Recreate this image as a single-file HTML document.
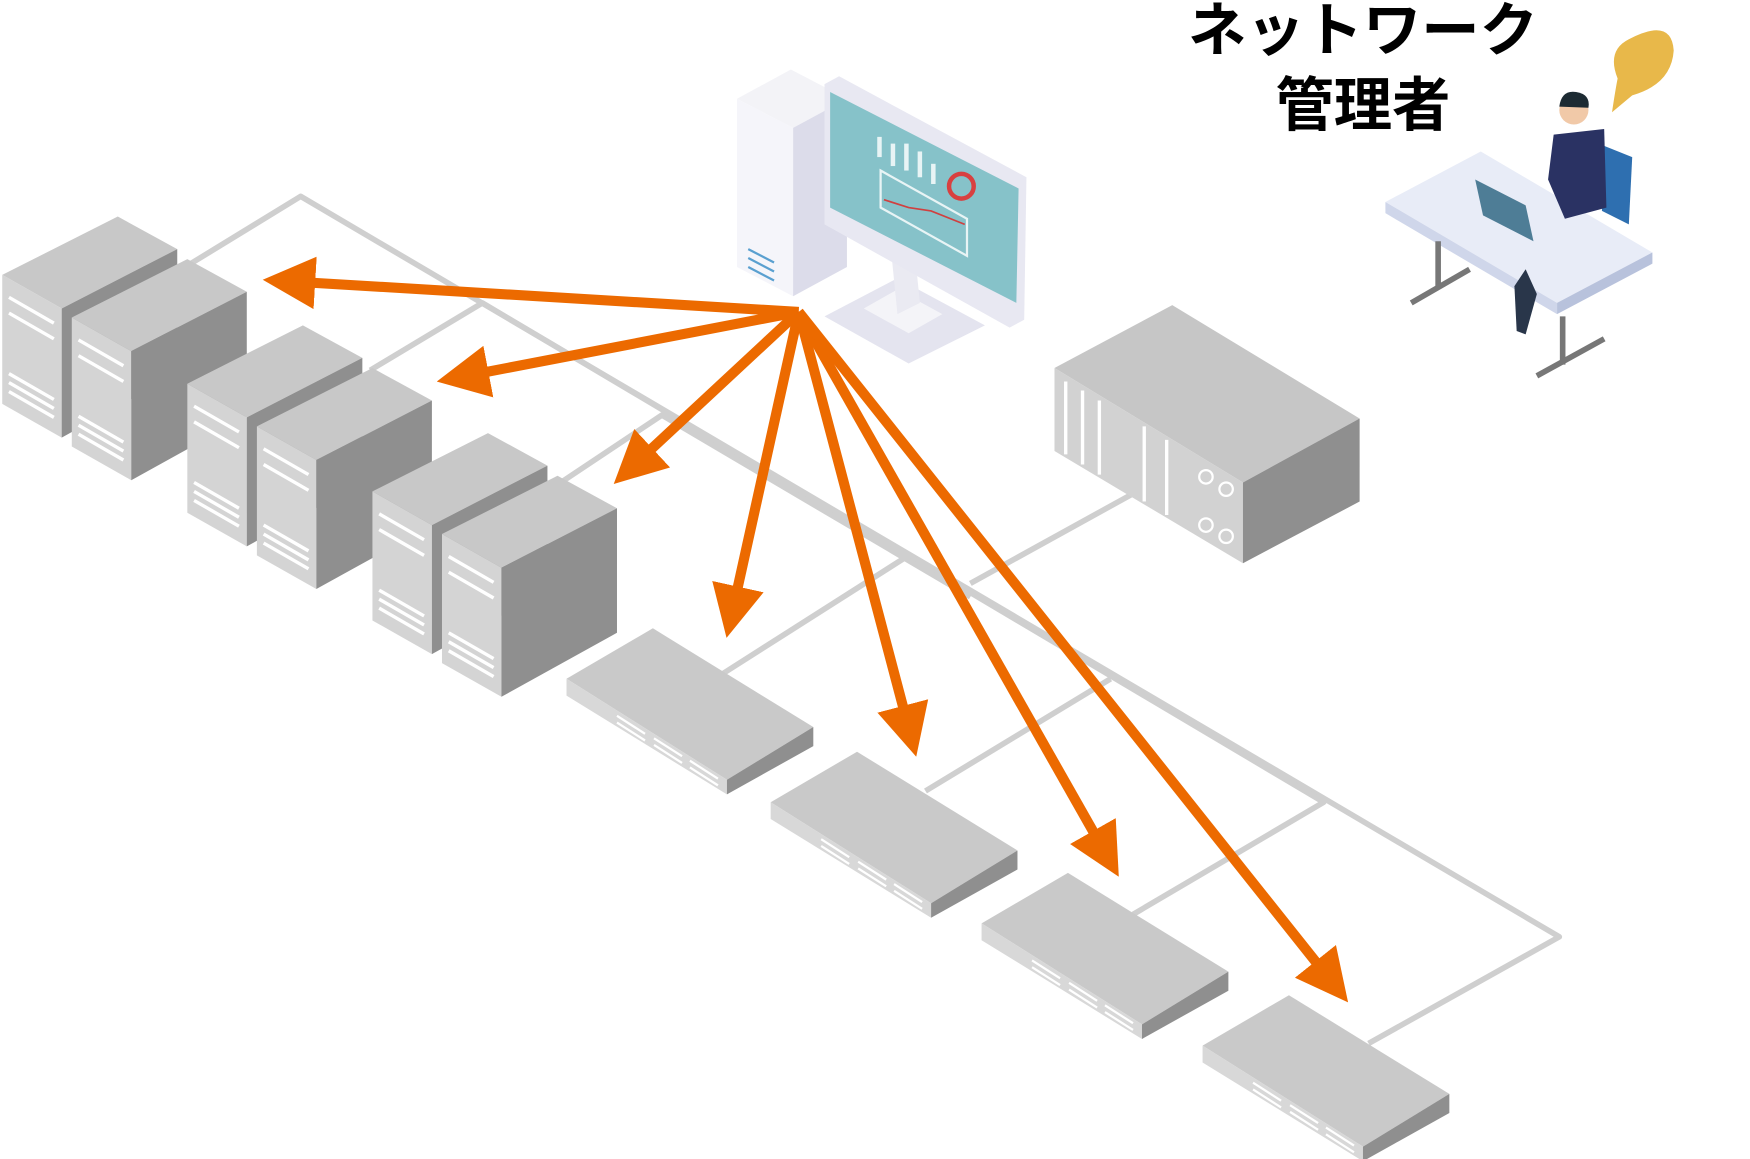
<!DOCTYPE html>
<html><head><meta charset="utf-8"><style>
html,body{margin:0;padding:0;background:#fff;}
svg{display:block}
</style></head><body>
<svg width="1750" height="1159" viewBox="0 0 1560 1033" preserveAspectRatio="none" xmlns="http://www.w3.org/2000/svg">
<defs>
<marker id="ah" markerWidth="5.2" markerHeight="5.2" refX="4" refY="2.6" orient="auto" markerUnits="strokeWidth">
<path d="M0,0 L5.2,2.6 L0,5.2 Z" fill="#ec6a00"/>
</marker>
<g id="tower">
<polygon points="0,52 103,0 156,29 53,82" fill="#c8c8c8"/>
<polygon points="0,52 53,82 53,197 0,167" fill="#d4d4d4"/>
<polygon points="53,82 156,29 156,140 53,197" fill="#8f8f8f"/>
<g stroke="#fff" stroke-width="3">
<line x1="6" y1="72" x2="46" y2="95"/><line x1="6" y1="86" x2="46" y2="109"/>
<line x1="6" y1="140" x2="46" y2="163"/><line x1="6" y1="148" x2="46" y2="171"/><line x1="6" y1="156" x2="46" y2="179"/>
</g>
</g>
<g id="pair">
<use href="#tower" x="0" y="0"/>
<use href="#tower" x="62" y="38"/>
</g>
<g id="sw">
<polygon points="0,45 77,0 220,88 143,135" fill="#c9c9c9"/>
<polygon points="0,45 143,135 143,148 0,60" fill="#d8d8d8"/>
<polygon points="143,135 220,88 220,105 143,148" fill="#8f8f8f"/>
<g stroke="#fff" stroke-width="2">
<line x1="45" y1="78" x2="70" y2="94"/><line x1="45" y1="84" x2="70" y2="100"/>
<line x1="78" y1="98" x2="103" y2="114"/><line x1="78" y1="104" x2="103" y2="120"/>
<line x1="110" y1="118" x2="135" y2="134"/><line x1="110" y1="124" x2="135" y2="140"/>
</g>
</g>
</defs>

<g stroke="#cfcfcf" stroke-width="5" fill="none" stroke-linejoin="round">
<polyline points="170,235 268,175 1390,835 1220,930"/>
<polyline points="330,330 430,270 1180,715 1010,815"/>
<polyline points="500,430 590,370 865,532"/>
<line x1="645" y1="600" x2="810" y2="495"/>
<line x1="865" y1="520" x2="1010" y2="440"/>
<line x1="825" y1="705" x2="990" y2="605"/>
</g>

<use href="#pair" x="2" y="193"/>
<use href="#pair" x="167" y="290"/>
<use href="#pair" x="332" y="386"/>

<use href="#sw" x="505" y="560"/>
<use href="#sw" x="687" y="670"/>
<use href="#sw" x="875" y="778"/>
<use href="#sw" x="1072" y="887"/>

<polygon points="940,328 1045,272 1212,373 1108,430" fill="#c6c6c6"/>
<polygon points="940,328 1108,430 1108,502 940,402" fill="#d2d2d2"/>
<polygon points="1108,430 1212,373 1212,447 1108,502" fill="#8f8f8f"/>
<g stroke="#fff" stroke-width="3">
<line x1="950" y1="340" x2="950" y2="405"/><line x1="965" y1="348" x2="965" y2="414"/><line x1="980" y1="357" x2="980" y2="423"/>
<line x1="1020" y1="380" x2="1020" y2="447"/><line x1="1040" y1="392" x2="1040" y2="459"/>
</g>
<g fill="none" stroke="#fff" stroke-width="2"><circle cx="1075" cy="425" r="6"/><circle cx="1093" cy="436" r="6"/><circle cx="1075" cy="468" r="6"/><circle cx="1093" cy="478" r="6"/></g>

<polygon points="657,88 705,62 755,88 707,114" fill="#f3f3f7"/>
<polygon points="657,88 707,114 707,264 657,238" fill="#f5f5fa"/>
<polygon points="707,114 755,88 755,238 707,264" fill="#dcdcea"/>
<g stroke="#5aa0d0" stroke-width="2"><line x1="667" y1="222" x2="690" y2="234"/><line x1="667" y1="230" x2="690" y2="242"/><line x1="667" y1="238" x2="690" y2="250"/></g>
<polygon points="735,282 800,248 878,290 810,324" fill="#e4e4ef"/>
<polygon points="770,275 800,258 840,280 810,297" fill="#f4f4f8"/>
<polygon points="795,230 815,220 820,270 800,280" fill="#eaeaf2"/>
<polygon points="735,75 748,68 915,158 913,285 900,292 735,200" fill="#e8e8f2"/>
<polygon points="740,82 908,168 906,270 740,185" fill="#86c2c9"/>
<g stroke="#e8f4f5" stroke-width="4"><line x1="784" y1="122" x2="784" y2="140"/><line x1="796" y1="128" x2="796" y2="148"/><line x1="808" y1="128" x2="808" y2="152"/><line x1="820" y1="135" x2="820" y2="158"/><line x1="832" y1="146" x2="832" y2="164"/></g>
<polygon points="785,152 862,195 862,228 785,185" fill="none" stroke="#e8f4f5" stroke-width="2"/>
<polyline points="788,178 810,185 830,188 860,200" fill="none" stroke="#d04040" stroke-width="1.5"/>
<circle cx="857" cy="166" r="11" fill="none" stroke="#d84040" stroke-width="4"/>

<polygon points="1235,180 1320,135 1473,225 1388,270" fill="#e8ecf7"/>
<polygon points="1235,180 1388,270 1388,280 1235,190" fill="#cfd6ea"/>
<polygon points="1388,270 1473,225 1473,235 1388,280" fill="#b8c2dc"/>
<g stroke="#777" stroke-width="5"><line x1="1282" y1="215" x2="1282" y2="255"/><line x1="1258" y1="270" x2="1310" y2="240"/><line x1="1393" y1="282" x2="1393" y2="325"/><line x1="1370" y1="335" x2="1430" y2="302"/></g>
<polygon points="1430,130 1455,140 1452,200 1428,188" fill="#2e6fb0"/>
<polygon points="1385,120 1430,115 1432,185 1395,195 1380,160" fill="#2a3263"/>
<circle cx="1403" cy="98" r="13" fill="#f1c9a8"/>
<path d="M1390,95 Q1392,80 1405,82 Q1418,84 1416,96 Z" fill="#1d2b33"/>
<polygon points="1315,160 1360,183 1367,215 1322,192" fill="#4e7d96"/>
<polygon points="1350,255 1360,240 1370,262 1360,298 1352,295" fill="#29364a"/>
<path d="M1452,35 Q1490,15 1492,45 Q1490,75 1455,85 L1437,100 Q1440,80 1442,70 Q1432,45 1452,35 Z" fill="#e8b84a"/>

<g stroke="#ec6a00" stroke-width="9" fill="none" marker-end="url(#ah)">
<line x1="712" y1="278" x2="245" y2="250"/>
<line x1="712" y1="278" x2="400" y2="338"/>
<line x1="712" y1="278" x2="555" y2="424"/>
<line x1="712" y1="278" x2="650" y2="558"/>
<line x1="712" y1="278" x2="814" y2="664"/>
<line x1="712" y1="278" x2="992" y2="772"/>
<line x1="712" y1="278" x2="1195" y2="885"/>
</g>

<text x="1215" y="45" font-family="'Liberation Sans','Noto Sans CJK JP',sans-serif" font-size="52" font-weight="bold" text-anchor="middle" fill="#000">ネットワーク</text>
<text x="1215" y="112" font-family="'Liberation Sans','Noto Sans CJK JP',sans-serif" font-size="52" font-weight="bold" text-anchor="middle" fill="#000">管理者</text>
</svg>
</body></html>
